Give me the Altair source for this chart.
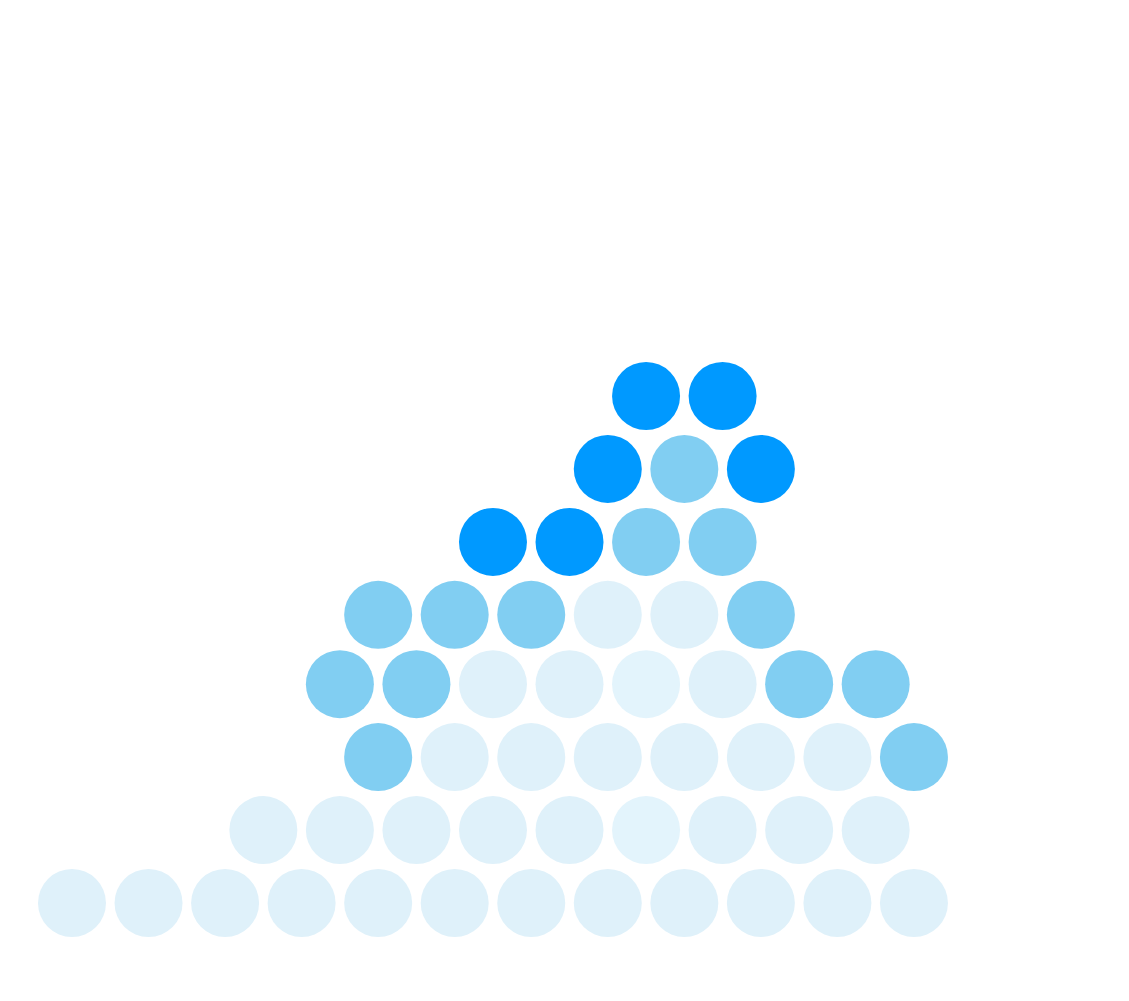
import altair as alt
import pandas as pd

# Column position (half-step units), row level and colour group for each dot
col_pos = [
    15, 17,
    14, 16, 18,
    11, 13, 15, 17,
    8, 10, 12, 14, 16, 18,
    7, 9, 11, 13, 15, 17, 19, 21,
    8, 10, 12, 14, 16, 18, 20, 22,
    5, 7, 9, 11, 13, 15, 17, 19, 21,
    0, 2, 4, 6, 8, 10, 12, 14, 16, 18, 20, 22,
]
row_level = (
    [6.95] * 2
    + [5.95] * 3
    + [4.95] * 4
    + [3.95] * 6
    + [3.0] * 8
    + [2.0] * 8
    + [1.0] * 9
    + [0.0] * 12
)
group = [
    "high", "high",
    "high", "mid", "high",
    "high", "high", "mid", "mid",
    "mid", "mid", "mid", "low", "low", "mid",
    "mid", "mid", "low", "low", "lowest", "low", "mid", "mid",
    "mid", "low", "low", "low", "low", "low", "low", "mid",
    "low", "low", "low", "low", "low", "lowest", "low", "low", "low",
    "low", "low", "low", "low", "low", "low", "low", "low", "low", "low", "low", "low",
]
group_names = ["high", "mid", "low", "lowest"]
group_colors = ["#0099FF", "#81CEF2", "#DFF1FA", "#E3F4FC"]

df = pd.DataFrame({"col": col_pos, "level": row_level, "group": group})

chart = (
    alt.Chart(df)
    .mark_circle(size=4624, opacity=1, strokeWidth=0)
    .encode(
        x=alt.X("col:Q", scale=alt.Scale(domain=[-1.672, 27.41], nice=False, zero=False), axis=None),
        y=alt.Y("level:Q", scale=alt.Scale(domain=[-1.234, 12.269], nice=False, zero=False), axis=None),
        color=alt.Color("group:N", scale=alt.Scale(domain=group_names, range=group_colors), legend=None),
    )
    .properties(width=1113, height=985, autosize=alt.AutoSizeParams(type="none"), padding=0)
    .configure_view(stroke=None)
)

chart.save("out.html", embed_options={"renderer": "svg", "actions": False})
